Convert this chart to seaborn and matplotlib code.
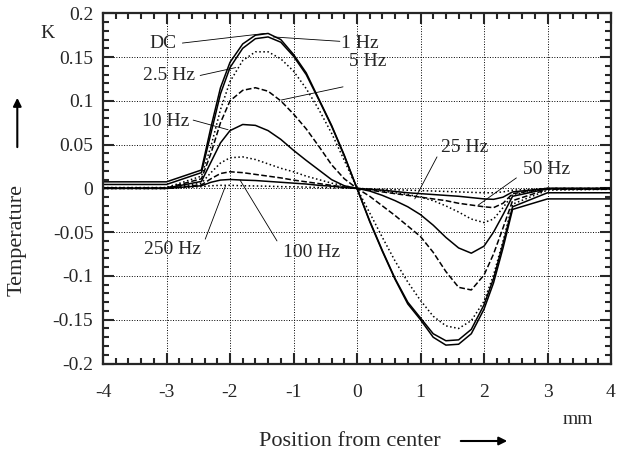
import numpy as np
import pandas as pd
import seaborn as sns
import matplotlib
matplotlib.use("Agg")
import matplotlib.pyplot as plt
from matplotlib.patches import FancyArrowPatch
from matplotlib.ticker import MultipleLocator

# positions (mm)
xs = [-4, -3, -2.45, -2.3, -2.15, -2.0, -1.8, -1.6, -1.4, -1.2, -1.0, -0.8, -0.6, -0.4, -0.2, 0,
      0.2, 0.4, 0.6, 0.8, 1.0, 1.2, 1.4, 1.6, 1.8, 2.0, 2.15, 2.3, 2.45, 3, 4]

# temperature (K) for each frequency
t_dc = [0.0075, 0.0075, 0.021, 0.070, 0.115, 0.144, 0.165, 0.175, 0.177, 0.170, 0.153, 0.132, 0.102, 0.072, 0.038, 0,
        -0.038, -0.072, -0.104, -0.132, -0.150, -0.170, -0.179, -0.178, -0.166, -0.138, -0.108, -0.068, -0.024, -0.012, -0.012]
t_1 = [0.0045, 0.0045, 0.018, 0.063, 0.108, 0.138, 0.160, 0.171, 0.173, 0.167, 0.151, 0.130, 0.101, 0.071, 0.037, 0,
       -0.037, -0.071, -0.103, -0.130, -0.148, -0.166, -0.174, -0.173, -0.161, -0.133, -0.103, -0.063, -0.021, -0.005, -0.005]
t_2_5 = [0.001, 0.001, 0.014, 0.048, 0.090, 0.122, 0.146, 0.156, 0.156, 0.148, 0.134, 0.114, 0.090, 0.063, 0.032, 0,
         -0.028, -0.056, -0.083, -0.107, -0.128, -0.146, -0.157, -0.160, -0.151, -0.129, -0.099, -0.060, -0.018, -0.002, -0.001]
t_5 = [0.0005, 0.0005, 0.011, 0.040, 0.075, 0.100, 0.112, 0.115, 0.111, 0.100, 0.085, 0.068, 0.048, 0.027, 0.011, 0,
       -0.009, -0.020, -0.031, -0.043, -0.055, -0.073, -0.095, -0.113, -0.116, -0.099, -0.075, -0.045, -0.014, -0.001, -0.001]
t_10 = [0.0003, 0.0003, 0.008, 0.030, 0.052, 0.066, 0.073, 0.072, 0.066, 0.056, 0.0435, 0.032, 0.021, 0.010, 0.003, 0,
        -0.003, -0.008, -0.014, -0.021, -0.030, -0.042, -0.056, -0.068, -0.074, -0.066, -0.050, -0.030, -0.009, -0.0005, -0.0005]
t_25 = [0, 0, 0.006, 0.018, 0.029, 0.035, 0.036, 0.033, 0.028, 0.023, 0.019, 0.014, 0.010, 0.006, 0.003, 0,
        -0.001, -0.003, -0.005, -0.007, -0.010, -0.014, -0.020, -0.027, -0.035, -0.039, -0.035, -0.022, -0.007, 0, 0]
t_50 = [0, 0, 0.004, 0.011, 0.017, 0.019, 0.018, 0.016, 0.014, 0.012, 0.0095, 0.0075, 0.0055, 0.0035, 0.0015, 0,
        -0.002, -0.004, -0.006, -0.008, -0.010, -0.012, -0.014, -0.017, -0.019, -0.021, -0.022, -0.017, -0.006, 0, 0]
t_100 = [0, 0, 0.003, 0.007, 0.0095, 0.0102, 0.0095, 0.009, 0.008, 0.007, 0.006, 0.005, 0.0035, 0.0025, 0.001, 0,
         -0.001, -0.002, -0.0035, -0.005, -0.006, -0.007, -0.008, -0.009, -0.0105, -0.012, -0.0125, -0.010, -0.004, 0, 0]
t_250 = [0, 0, 0.002, 0.003, 0.0035, 0.0035, 0.003, 0.0028, 0.0025, 0.002, 0.0018, 0.0015, 0.001, 0.0007, 0.0003, 0,
         -0.0005, -0.001, -0.0015, -0.002, -0.0025, -0.003, -0.0035, -0.004, -0.0045, -0.005, -0.005, -0.004, -0.002, 0, 0]

curves = [t_dc, t_1, t_2_5, t_5, t_10, t_25, t_50, t_100, t_250]
styles = ['-', '-', ':', '--', '-', ':', '--', '-', ':']

# label text, text position, leader line start and end (data coords)
labels = ['DC', '1 Hz', '2.5 Hz', '5 Hz', '10 Hz', '25 Hz', '50 Hz', '250 Hz', '100 Hz']
label_xy = [(-3.05, 0.165), (0.05, 0.166), (-2.96, 0.129), (0.17, 0.145), (-3.02, 0.076),
            (1.69, 0.047), (2.98, 0.022), (-2.90, -0.070), (-0.72, -0.073)]
leader_from = [(-2.75, 0.166), (-0.27, 0.168), (-2.47, 0.129), (-0.22, 0.116), (-2.58, 0.078),
               (1.26, 0.036), (2.51, 0.012), (-2.39, -0.058), (-1.26, -0.060)]
leader_to = [(-1.45, 0.177), (-1.32, 0.173), (-1.91, 0.138), (-1.19, 0.101), (-2.03, 0.067),
             (0.91, -0.012), (1.91, -0.019), (-2.07, 0.003), (-1.84, 0.0093)]

xtick_vals = [-4, -3, -2, -1, 0, 1, 2, 3, 4]
xtick_text = ['-4', '-3', '-2', '-1', '0', '1', '2', '3', '4']
ytick_vals = [-0.2, -0.15, -0.1, -0.05, 0, 0.05, 0.1, 0.15, 0.2]
ytick_text = ['-0.2', '-0.15', '-0.1', '-0.05', '0', '0.05', '0.1', '0.15', '0.2']

sns.set_style('ticks')
plt.rcParams['font.family'] = ['Liberation Serif', 'DejaVu Serif']
plt.rcParams['xtick.direction'] = 'in'
plt.rcParams['ytick.direction'] = 'in'

fig = plt.figure(figsize=(6.18, 4.57), dpi=100)
ax = fig.add_axes([103 / 618, 1 - 363.5 / 457, 508 / 618, 350.2 / 457])

for vals, ls in zip(curves, styles):
    sns.lineplot(x=xs, y=vals, ax=ax, color='black', linestyle=ls, linewidth=1.1,
                 sort=False, estimator=None)

for txt, p, a, b in zip(labels, label_xy, leader_from, leader_to):
    ax.text(p[0], p[1], txt, fontsize=14, ha='center', va='center')
    ax.plot([a[0], b[0]], [a[1], b[1]], color='black', linewidth=0.6)

ax.set_xlim(-4, 4)
ax.set_ylim(-0.2, 0.2)
ax.xaxis.set_minor_locator(MultipleLocator(0.2))
ax.yaxis.set_minor_locator(MultipleLocator(0.01))
ax.set_xticks(xtick_vals)
ax.set_xticklabels(xtick_text)
ax.set_yticks(ytick_vals)
ax.set_yticklabels(ytick_text)
ax.tick_params(which='both', top=True, right=True, width=1.5, labelsize=14)
ax.tick_params(axis='x', which='major', pad=15)
ax.tick_params(axis='y', which='major', pad=7)
ax.tick_params(which='major', length=8)
ax.tick_params(which='minor', length=4)
ax.grid(which='major', color='black', linestyle=':', linewidth=0.7)
for s in ax.spines.values():
    s.set_linewidth(1.6)

fig.text(47 / 618, 1 - 33 / 457, 'K', fontsize=14, ha='center', va='center')
fig.text(0.028, 0.475, 'Temperature', fontsize=16, rotation=90, ha='center', va='center')
fig.text(578 / 618, 1 - 420 / 457, 'mm', fontsize=14, ha='center', va='center')
fig.text(350 / 618, 1 - 441 / 457, 'Position from center', fontsize=16, ha='center', va='center')
fig.add_artist(FancyArrowPatch((458 / 618, 1 - 441 / 457), (510 / 618, 1 - 441 / 457), transform=fig.transFigure,
                               arrowstyle='-|>', mutation_scale=12, color='black', linewidth=1.5))
fig.add_artist(FancyArrowPatch((0.028, 0.672), (0.028, 0.792), transform=fig.transFigure,
                               arrowstyle='-|>', mutation_scale=12, color='black', linewidth=1.5))

fig.savefig('out.png', dpi=100)
